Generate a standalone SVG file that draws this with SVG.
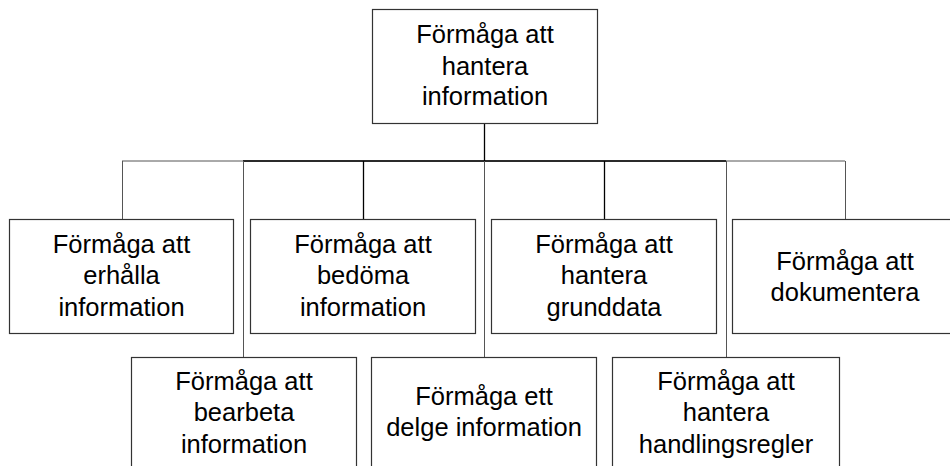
<svg xmlns="http://www.w3.org/2000/svg" width="950" height="466" viewBox="0 0 950 466">
<style>
.box{fill:#fff;stroke:#333;stroke-width:1.2}
.t{font-family:"Liberation Sans",Arial,sans-serif;font-size:25.5px;fill:#000;text-anchor:middle}
.c{fill:none;stroke:#555;stroke-width:1}
.cd{fill:none;stroke:#000;stroke-width:1.3}
</style>
<rect width="950" height="466" fill="#fff"/>
<g id="connectors">
<line class="c" x1="122" y1="161" x2="845" y2="161"/>
<line class="cd" x1="243" y1="161" x2="726" y2="161"/>
<line class="cd" x1="484.5" y1="123" x2="484.5" y2="161"/>
<line class="c" x1="122.5" y1="161" x2="122.5" y2="219"/>
<line class="cd" x1="363.5" y1="161" x2="363.5" y2="219"/>
<line class="cd" x1="604.5" y1="161" x2="604.5" y2="219"/>
<line class="c" x1="845.5" y1="161" x2="845.5" y2="219"/>
<line class="c" x1="243.5" y1="161" x2="243.5" y2="357"/>
<line class="c" x1="484.5" y1="161" x2="484.5" y2="357"/>
<line class="c" x1="726.5" y1="161" x2="726.5" y2="357"/>
</g>
<g id="root">
<rect class="box" x="372.5" y="9.5" width="225" height="114"/>
<text class="t" x="485" y="43">Förmåga att</text>
<text class="t" x="485" y="74.5">hantera</text>
<text class="t" x="485" y="105">information</text>
</g>
<g id="erhalla">
<rect class="box" x="9.5" y="219.5" width="224" height="114"/>
<text class="t" x="121.5" y="252.5">Förmåga att</text>
<text class="t" x="121.5" y="284">erhålla</text>
<text class="t" x="121.5" y="315.5">information</text>
</g>
<g id="bedoma">
<rect class="box" x="250.5" y="219.5" width="225" height="114"/>
<text class="t" x="363" y="252.5">Förmåga att</text>
<text class="t" x="363" y="284">bedöma</text>
<text class="t" x="363" y="315.5">information</text>
</g>
<g id="grunddata">
<rect class="box" x="491.5" y="219.5" width="225" height="114"/>
<text class="t" x="604" y="252.5">Förmåga att</text>
<text class="t" x="604" y="284">hantera</text>
<text class="t" x="604" y="315.5">grunddata</text>
</g>
<g id="dokumentera">
<rect class="box" x="732.5" y="219.5" width="225" height="114"/>
<text class="t" x="845" y="269.5">Förmåga att</text>
<text class="t" x="845" y="300.5">dokumentera</text>
</g>
<g id="bearbeta">
<rect class="box" x="131.5" y="357.5" width="225" height="114"/>
<text class="t" x="244" y="389.5">Förmåga att</text>
<text class="t" x="244" y="421">bearbeta</text>
<text class="t" x="244" y="452.5">information</text>
</g>
<g id="delge">
<rect class="box" x="371.5" y="357.5" width="225" height="114"/>
<text class="t" x="484" y="405">Förmåga ett</text>
<text class="t" x="484" y="436">delge information</text>
</g>
<g id="handlingsregler">
<rect class="box" x="612.5" y="357.5" width="227" height="114"/>
<text class="t" x="726" y="389.5">Förmåga att</text>
<text class="t" x="726" y="421">hantera</text>
<text class="t" x="726" y="452.5">handlingsregler</text>
</g>
</svg>
